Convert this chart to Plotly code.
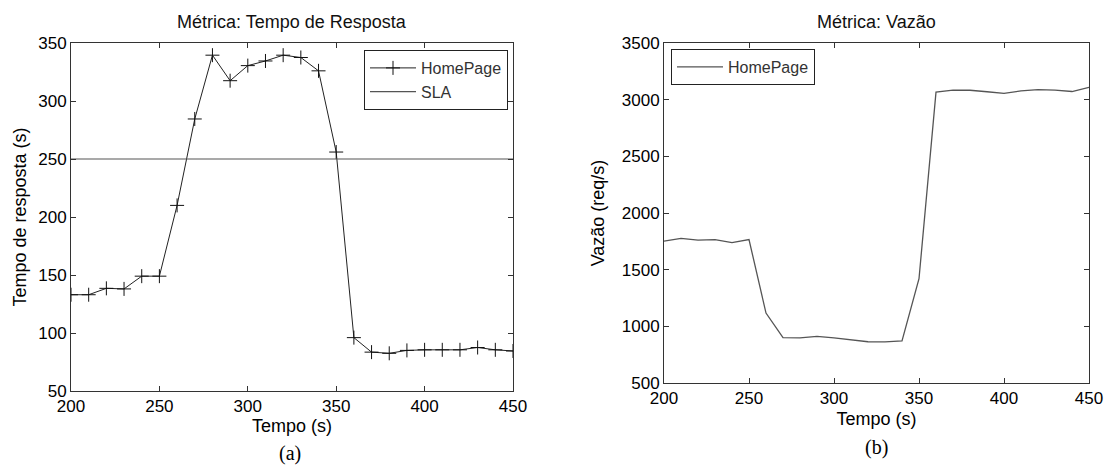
import plotly.graph_objects as go

# ---- data ----
tempo = [200, 210, 220, 230, 240, 250, 260, 270, 280, 290, 300, 310, 320,
         330, 340, 350, 360, 370, 380, 390, 400, 410, 420, 430, 440, 450]
tempo_resposta = [133, 133, 138.5, 138, 149, 149, 210, 284.5, 339.5, 317.5, 330.5, 334.5, 339.5,
                  337.5, 326, 256, 96, 83.5, 82.5, 85, 85.5, 85.5, 85.5, 87.5, 85.5, 84.5]
sla = 250
vazao = [1752, 1776, 1760, 1765, 1739, 1766, 1117, 900, 898, 912, 898, 880, 864,
         862, 872, 1420, 3067, 3085, 3083, 3070, 3056, 3077, 3089, 3084, 3072, 3109]

x_ticks = [200, 250, 300, 350, 400, 450]
y1_ticks = [50, 100, 150, 200, 250, 300, 350]
y2_ticks = [500, 1000, 1500, 2000, 2500, 3000, 3500]

W, H = 1111, 466
FONT = "Liberation Sans, Arial, sans-serif"
SERIF = "Liberation Serif, Times New Roman, serif"

def px_x(p):
    return p / W

def px_y(p):
    return 1 - p / H

fig = go.Figure()

fig.add_trace(go.Scatter(
    x=tempo, y=tempo_resposta, mode="lines+markers", name="HomePage",
    line=dict(color="#222222", width=1),
    marker=dict(symbol="cross-thin", size=10, line=dict(color="#111111", width=1)),
    xaxis="x", yaxis="y", legend="legend"))
fig.add_trace(go.Scatter(
    x=[tempo[0], tempo[-1]], y=[sla, sla], mode="lines", name="SLA",
    line=dict(color="#555555", width=1.2),
    xaxis="x", yaxis="y", legend="legend"))
fig.add_trace(go.Scatter(
    x=tempo, y=vazao, mode="lines", name="HomePage",
    line=dict(color="#555555", width=1.3),
    xaxis="x2", yaxis="y2", legend="legend2"))

axis_common = dict(
    showline=True, linecolor="#333333", linewidth=1, mirror="ticks",
    ticks="inside", ticklen=5, tickcolor="#333333", showgrid=False, zeroline=False,
    automargin=False,
    tickfont=dict(family=FONT, size=17, color="#000000"),
)
title_font = dict(family=FONT, size=18, color="#000000")

fig.update_layout(
    width=W, height=H,
    margin=dict(l=0, r=0, t=0, b=0, autoexpand=False),
    paper_bgcolor="white", plot_bgcolor="white",
    showlegend=True,
    xaxis=dict(domain=[px_x(71), px_x(513)], range=[200, 450], tickvals=x_ticks,
               anchor="y",
               title=dict(text="Tempo (s)", font=title_font, standoff=2),
               **axis_common),
    yaxis=dict(domain=[px_y(391), px_y(43)], range=[50, 350], tickvals=y1_ticks,
               anchor="x",
               title=dict(text="Tempo de resposta (s)", font=title_font, standoff=6),
               **axis_common),
    xaxis2=dict(domain=[px_x(664), px_x(1089)], range=[200, 450], tickvals=x_ticks,
                anchor="y2",
                title=dict(text="Tempo (s)", font=title_font, standoff=4),
                **axis_common),
    yaxis2=dict(domain=[px_y(383), px_y(43)], range=[500, 3500], tickvals=y2_ticks,
                anchor="x2",
                title=dict(text="Vazão (req/s)", font=title_font, standoff=12),
                **axis_common),
    legend=dict(x=px_x(508), y=px_y(50), xanchor="right", yanchor="top",
                bgcolor="white", bordercolor="#222222", borderwidth=1,
                font=dict(family=FONT, size=16, color="#333333"),
                itemwidth=46, tracegroupgap=0),
    legend2=dict(x=px_x(671), y=px_y(49), xanchor="left", yanchor="top",
                 bgcolor="white", bordercolor="#222222", borderwidth=1,
                 font=dict(family=FONT, size=16, color="#333333"),
                 itemwidth=46),
    annotations=[
        dict(text="Métrica: Tempo de Resposta", x=px_x(292), y=px_y(22), xref="paper", yref="paper",
             xanchor="center", yanchor="middle",
             showarrow=False, font=dict(family=FONT, size=18, color="#111")),
        dict(text="Métrica: Vazão", x=px_x(876), y=px_y(22), xref="paper", yref="paper",
             xanchor="center", yanchor="middle",
             showarrow=False, font=dict(family=FONT, size=18, color="#111")),
        dict(text="(a)", x=px_x(290), y=px_y(453), xref="paper", yref="paper",
             xanchor="center", yanchor="middle",
             showarrow=False, font=dict(family=SERIF, size=20, color="#000")),
        dict(text="(b)", x=px_x(876), y=px_y(447), xref="paper", yref="paper",
             xanchor="center", yanchor="middle",
             showarrow=False, font=dict(family=SERIF, size=20, color="#000")),
    ],
)

fig.write_html("out.html", config={"displayModeBar": False},
               post_script="document.body.style.margin='0';")
